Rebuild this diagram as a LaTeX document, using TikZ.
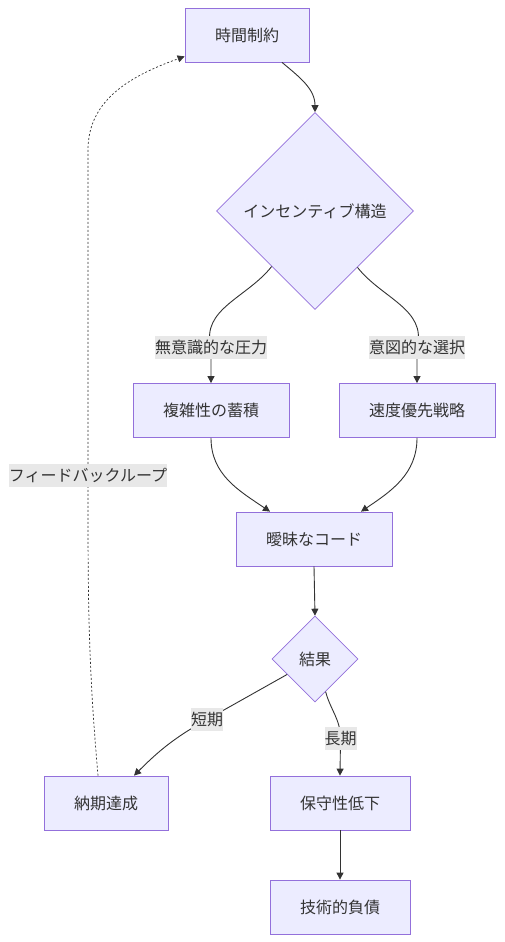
\documentclass[tikz,border=0pt]{standalone}
\usepackage{fontspec}
\setmainfont{Noto Sans CJK JP}
\usetikzlibrary{shapes.geometric,arrows.meta}
\definecolor{boxfill}{HTML}{ECECFF}
\definecolor{boxline}{HTML}{9370DB}
\definecolor{edgegray}{HTML}{333333}
\definecolor{lblgray}{HTML}{E8E8E8}

\begin{document}
\begin{tikzpicture}[x=1pt, y=1pt,
    every node/.style={font=\fontsize{16}{19}\selectfont, text=edgegray},
    box/.style={draw=boxline, fill=boxfill, line width=0.8pt, rectangle, inner xsep=30pt, minimum height=54pt},
    decision/.style={draw=boxline, fill=boxfill, line width=0.6pt, diamond, aspect=1, inner sep=0pt},
    lbl/.style={fill=lblgray, inner xsep=0pt, inner ysep=0pt, minimum height=23pt},
    arr/.style={draw=edgegray, line width=0.9pt, -{Triangle[length=7pt,width=7pt]}}]
    \useasboundingbox (0,0) rectangle (504,-942);

    % Noeuds
    \node[box] (tc) at (247,-35) {時間制約};
    \node[decision, minimum width=197pt, minimum height=197pt] (inc) at (315,-211) {インセンティブ構造};
    \node[box] (cx) at (211,-410.5) {複雑性の蓄積};
    \node[box] (sp) at (417,-410.5) {速度優先戦略};
    \node[box] (amb) at (314,-539) {曖昧なコード};
    \node[decision, minimum width=86pt, minimum height=86pt] (res) at (315,-659) {結果};
    \node[box] (dl) at (106,-803) {納期達成};
    \node[box] (mt) at (340,-803) {保守性低下};
    \node[box] (td) at (340,-907) {技術的負債};

    % Points des etiquettes
    \coordinate (l1) at (211,-347);
    \coordinate (l2) at (417,-347);
    \coordinate (l3) at (207,-719.5);
    \coordinate (l4) at (340.5,-738.5);
    \coordinate (l5) at (88,-475.5);
    \coordinate (fbtop) at (88,-150);

    % Relations
    \draw[arr] ([xshift=35pt]tc.south) to[out=-40, in=90] (inc.north);
    \draw[arr] (inc.232.5) to[out=-128, in=105] (l1) node[lbl] {無意識的な圧力} -- (cx.north);
    \draw[arr] (inc.307.5) to[out=-52, in=75] (l2) node[lbl] {意図的な選択} -- (sp.north);
    \draw[arr] (cx.south) to[out=-90, in=146] ([xshift=-44pt]amb.north);
    \draw[arr] (sp.south) to[out=-90, in=34] ([xshift=47pt]amb.north);
    \draw[arr] (amb.south) -- (res.north);
    \draw[arr] (res.209.7) -- (l3) node[lbl] {短期} to[out=209, in=45] ([xshift=28pt]dl.north);
    \draw[arr] (res.288) to[out=-75, in=90] (l4) node[lbl] {長期} -- (mt.north);
    \draw[arr] (mt.south) -- (td.north);

    % Boucle
    \draw[arr, dash pattern=on 2pt off 2pt, line width=0.7pt] ([xshift=-8pt]dl.north) to[out=95, in=-90] (l5) node[lbl] {フィードバックループ} -- (fbtop) to[out=90, in=200] ([yshift=6pt]tc.south west);
\end{tikzpicture}
\end{document}
